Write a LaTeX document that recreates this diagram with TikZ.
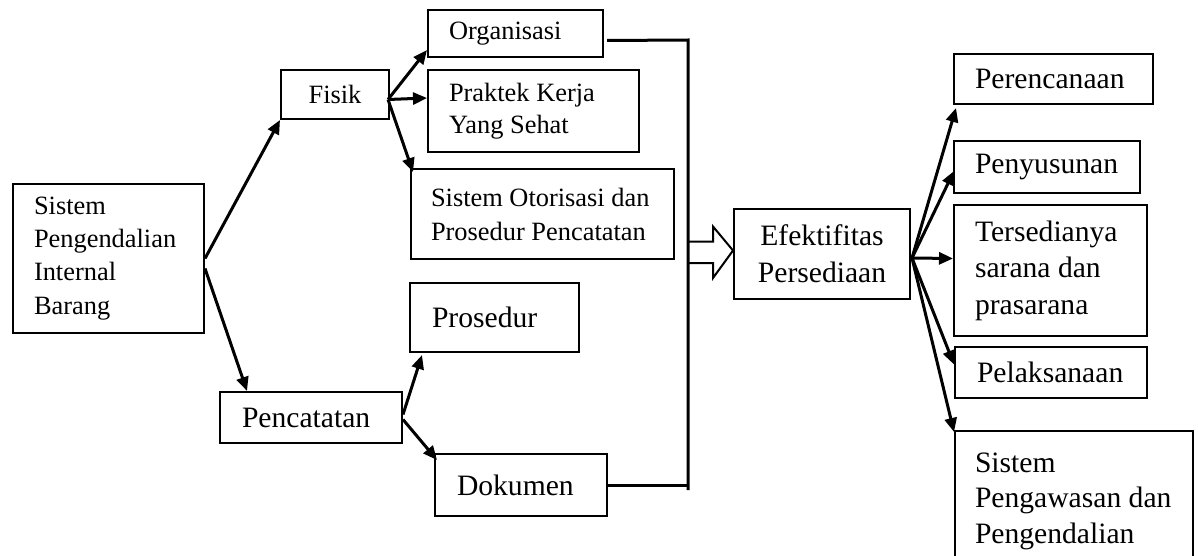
\documentclass[tikz,border=0pt]{standalone}
\usepackage{fontspec}
\setmainfont{Liberation Serif}
\usepackage{tikz}
\usetikzlibrary{arrows.meta,calc,positioning}

\begin{document}
\begin{tikzpicture}[x=0.5pt,y=-0.5pt]
		\tikzset{
			kotak/.style={draw,line width=1pt,inner sep=0pt,anchor=north west,align=flush left,
				execute at begin node={\spaceskip=0pt\xspaceskip=0pt\relax},font=\fontsize{13.2}{17}\selectfont},
			spasi/.style={font=\fontsize{13.2}{#1}\selectfont},
			besar/.style={font=\fontsize{14.8}{#1}\selectfont},
			panah/.style={line width=1.5pt,-{Triangle[length=7pt,width=6pt]}},
			garis/.style={line width=1.5pt}
		}
		\useasboundingbox (0,0) rectangle (1198,556);
		%%%Kotak sebelah kiri
		\node[kotak,spasi=16.6pt,minimum width=95.5pt,minimum height=74.5pt,text width=74.5pt] (sistem) at (12,183) {Sistem\\Pengendalian\\Internal\\Barang};
		\node[kotak,align=center,minimum width=54pt,minimum height=24.5pt] (fisik) at (280,69) {Fisik};
		\node[kotak,besar=18pt,minimum width=91pt,minimum height=25.5pt,text width=69pt] (catat) at (219,391) {Pencatatan};
		%%%Cabang fisik
		\node[kotak,minimum width=87.5pt,minimum height=23.5pt,text width=66.5pt] (org) at (427,9) {Organisasi};
		\node[kotak,spasi=16pt,minimum width=105.5pt,minimum height=41pt,text width=84.5pt] (praktek) at (427,69) {Praktek Kerja\\Yang Sehat};
		\node[kotak,minimum width=131.5pt,minimum height=45pt,text width=111.5pt] (otor) at (410,168) {\mbox{Sistem Otorisasi dan}\\\mbox{Prosedur Pencatatan}};
		%%%Cabang pencatatan
		\node[kotak,besar=18pt,minimum width=84.5pt,minimum height=34.5pt,text width=62.5pt] (prosedur) at (409,282) {Prosedur\\[-8pt]};
		\node[kotak,besar=18pt,minimum width=86pt,minimum height=31pt,text width=64pt] (dokumen) at (434,453) {Dokumen};
		%%%Kotak tengah
		\node[kotak,align=center,besar=18.5pt,minimum width=88pt,minimum height=45pt] (efek) at (733,208) {Efektifitas\\Persediaan};
		%%%Kotak sebelah kanan
		\node[kotak,besar=18pt,minimum width=99.5pt,minimum height=25pt,text width=78.5pt] (rencana) at (953,53) {Perencanaan};
		\node[kotak,besar=18pt,minimum width=93pt,minimum height=26pt,text width=72pt] (susun) at (953,140) {Penyusunan};
		\node[kotak,besar=18.3pt,minimum width=96.5pt,minimum height=65.5pt,text width=75.5pt] (sarana) at (953,204) {Tersedianya\\sarana dan\\prasarana};
		\node[kotak,besar=17.8pt,minimum width=96pt,minimum height=25.5pt,text width=74pt] (laksana) at (954,346) {Pelaksanaan};
		\node[kotak,besar=17.8pt,minimum width=119pt,minimum height=70pt,text width=99pt] (awas) at (954,430) {Sistem\\\mbox{Pengawasan dan}\\Pengendalian};
		%%%Panah dari sistem
		\draw[panah] (sistem.east) -- (fisik.south west);
		\draw[panah] ([shift={(0,10)}]sistem.east) -- ([shift={(28,0)}]catat.north west);
		%%%Panah dari fisik
		\coordinate (f0) at ([shift={(-2,5)}]fisik.east);
		\draw[panah] (f0) -- ([shift={(0,-8)}]org.south west);
		\draw[panah] (f0) -- ([shift={(0,-13)}]praktek.west);
		\draw[panah] (f0) -- ([shift={(3,4)}]otor.north west);
		%%%Panah dari pencatatan
		\draw[panah] ([shift={(0,-3)}]catat.east) -- ([shift={(13,2)}]prosedur.south west);
		\draw[panah] ([shift={(0,2)}]catat.east) -- ([shift={(3,7)}]dokumen.north west);
		%%%Garis penghubung
		\coordinate (atas) at (688,40);
		\coordinate (bawah) at (688,490);
		\draw[garis] ([shift={(3,7)}]org.east) -- (atas) -- (bawah);
		\draw[garis] (dokumen.east) -- (dokumen.east -| atas);
		\draw[line width=1pt] ($(efek.west)+(-45,-12.5)$) -- ++(25,0) -- ++(0,-15) -- ([shift={(0,-3.5)}]efek.west) -- ++(-20,27.5) -- ++(0,-15) -- ++(-25,0);
		%%%Panah dari efektifitas
		\coordinate (e0) at ([shift={(1,4)}]efek.east);
		\draw[panah] (e0) -- ([shift={(3,3)}]rencana.south west);
		\draw[panah] (e0) -- ([shift={(1,4)}]susun.west);
		\draw[panah] (e0) -- ([shift={(0,-12)}]sarana.west);
		\draw[panah] (e0) -- ([shift={(0,-8)}]laksana.west);
		\draw[panah] (e0) -- ([shift={(0,2)}]awas.north west);
	\end{tikzpicture}
\end{document}
